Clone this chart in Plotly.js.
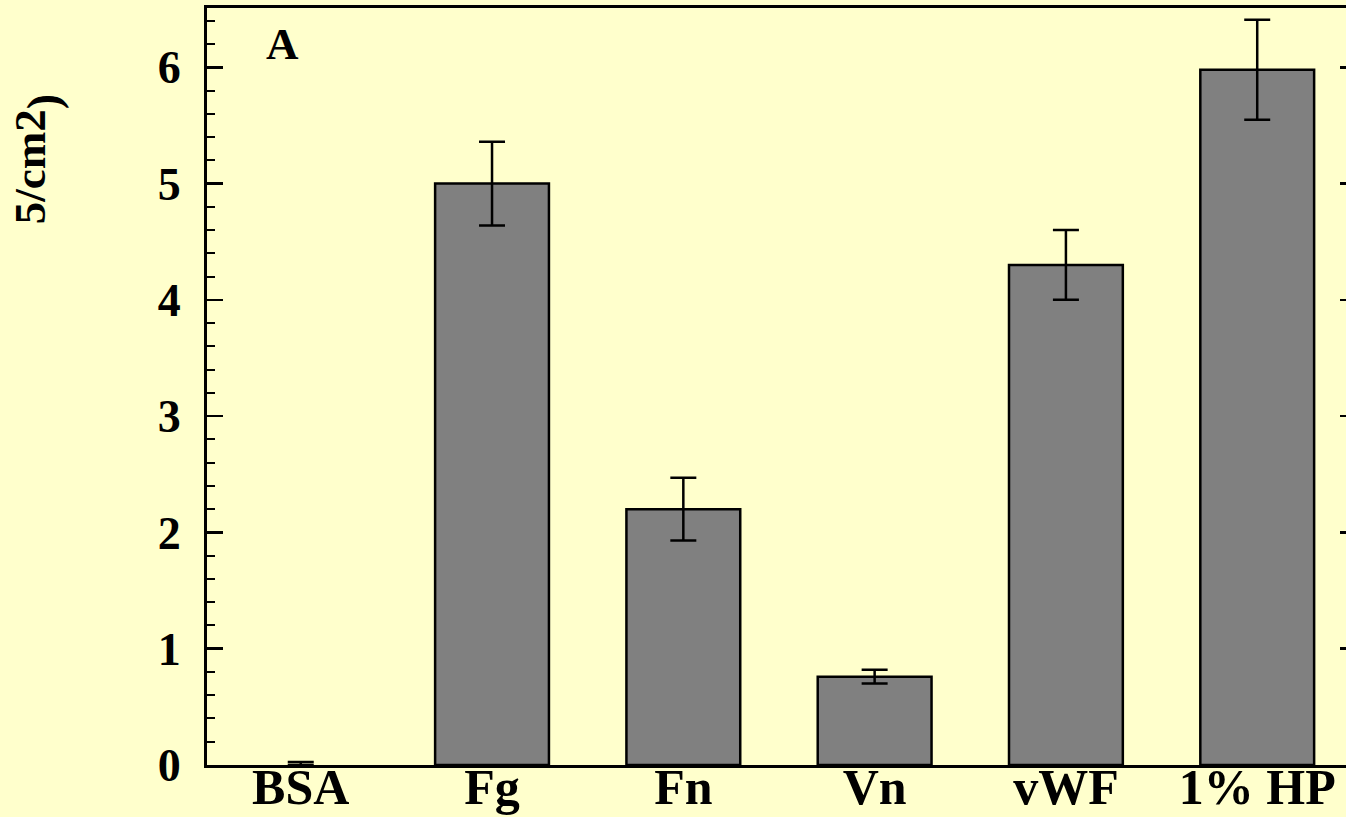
<!DOCTYPE html>
<html>
<head>
<meta charset="utf-8">
<script src="https://cdn.plot.ly/plotly-3.0.1.min.js"></script>
<style>
html,body{margin:0;padding:0;overflow:hidden;background:#FFFFCC;}
#chart{width:1352px;height:817px;}
</style>
</head>
<body>
<div id="chart"></div>
<script>
const categories = ["BSA", "Fg", "Fn", "Vn", "vWF", "1% HP"];
const values = [0, 5.0, 2.2, 0.76, 4.3, 5.98];
const errors = [0.025, 0.36, 0.27, 0.06, 0.3, 0.43];
const yTickVals = [0, 1, 2, 3, 4, 5, 6];
const yTickText = ["0", "1", "2", "3", "4", "5", "6"];

const FONT = "Liberation Serif, Times New Roman, serif";
const outlineWidths = values.map(v => v > 0 ? 2.5 : 0);
const errorsMinus = errors.map((e, i) => values[i] > 0 ? e : 0);

const traces = [{
  type: "bar",
  x: categories,
  y: values,
  width: 0.595,
  marker: {color: "#808080", line: {color: "#000000", width: outlineWidths}},
  error_y: {type: "data", array: errors, arrayminus: errorsMinus, symmetric: false, visible: true, color: "#000000", thickness: 2.5, width: 13},
  hoverinfo: "none"
}, {
  type: "scatter",
  x: categories,
  y: values,
  yaxis: "y2",
  mode: "none",
  showlegend: false,
  hoverinfo: "none"
}];

const layout = {
  width: 1352,
  height: 817,
  paper_bgcolor: "#FFFFCC",
  plot_bgcolor: "#FFFFCC",
  showlegend: false,
  margin: {l: 207, r: 2, t: 8, b: 52, pad: 0},
  font: {family: FONT, color: "#000000"},
  xaxis: {
    type: "category",
    range: [-0.49, 5.485],
    showline: true,
    mirror: true,
    linecolor: "#000000",
    linewidth: 3,
    ticks: "",
    showgrid: false,
    zeroline: false,
    tickfont: {family: FONT, size: 50, color: "#000000", weight: "bold"},
    ticklabelstandoff: -24
  },
  yaxis: {
    range: [0, 6.51],
    tickvals: yTickVals,
    ticktext: yTickText,
    showline: true,
    mirror: true,
    linecolor: "#000000",
    linewidth: 3,
    ticks: "inside",
    ticklen: 16,
    tickwidth: 2.5,
    tickcolor: "#000000",
    minor: {dtick: 0.2, ticks: "inside", ticklen: 8, tickwidth: 2, tickcolor: "#000000", showgrid: false},
    showgrid: false,
    zeroline: false,
    tickfont: {family: FONT, size: 46, color: "#000000", weight: "bold"},
    ticklabelstandoff: 14
  },
  yaxis2: {
    overlaying: "y",
    side: "right",
    range: [0, 6.51],
    tickvals: yTickVals,
    ticks: "inside",
    ticklen: 10,
    tickwidth: 2.5,
    tickcolor: "#000000",
    showticklabels: false,
    showline: false,
    showgrid: false,
    zeroline: false
  },
  annotations: [{
    text: "<b>A</b>",
    xref: "paper", yref: "paper",
    x: 0.050, y: 0.952,
    xanchor: "left", yanchor: "middle",
    showarrow: false,
    font: {family: FONT, size: 45, color: "#000000"}
  }, {
    text: "<b>5/cm2<span style='font-size:66px'><sub>)</sub></span></b>",
    xref: "paper", yref: "paper",
    x: -0.148, y: 0.8,
    xanchor: "center", yanchor: "middle",
    textangle: -90,
    showarrow: false,
    font: {family: FONT, size: 45, color: "#000000"}
  }]
};

Plotly.newPlot("chart", traces, layout, {displayModeBar: false, staticPlot: true});
</script>
</body>
</html>
